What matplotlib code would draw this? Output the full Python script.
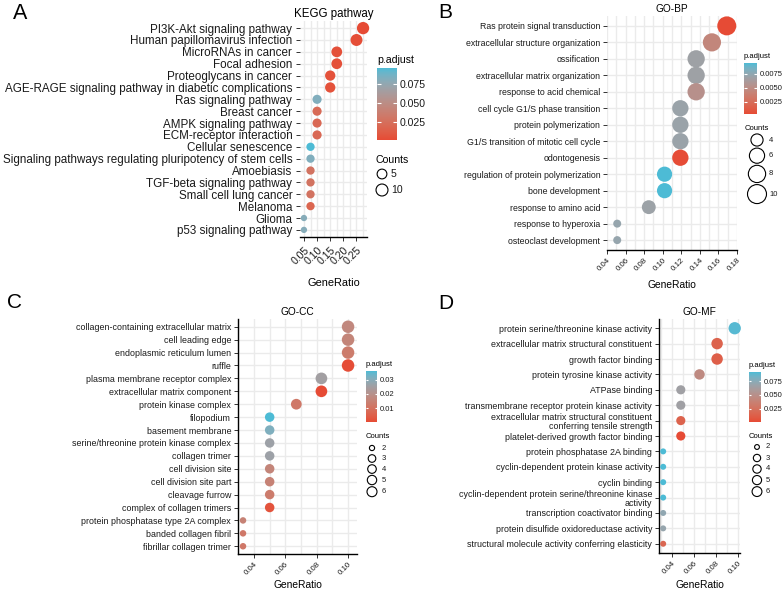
import numpy as np
import matplotlib
matplotlib.use("Agg")
import matplotlib.pyplot as plt
from matplotlib.colors import ListedColormap, Normalize, to_rgb
from matplotlib.cm import ScalarMappable
from matplotlib.ticker import MultipleLocator, FormatStrFormatter

plt.rcParams['font.family'] = ['Liberation Sans', 'DejaVu Sans']

W, H = 784, 591

# ---- KEGG (A) ----
kegg_terms = ["PI3K-Akt signaling pathway", "Human papillomavirus infection", "MicroRNAs in cancer",
              "Focal adhesion", "Proteoglycans in cancer",
              "AGE-RAGE signaling pathway in diabetic complications", "Ras signaling pathway",
              "Breast cancer", "AMPK signaling pathway", "ECM-receptor interaction",
              "Cellular senescence", "Signaling pathways regulating pluripotency of stem cells",
              "Amoebiasis", "TGF-beta signaling pathway", "Small cell lung cancer", "Melanoma",
              "Glioma", "p53 signaling pathway"]
kegg_ratio = [0.275, 0.25, 0.175, 0.175, 0.15, 0.15, 0.10, 0.10, 0.10, 0.10,
              0.075, 0.075, 0.075, 0.075, 0.075, 0.075, 0.05, 0.05]
kegg_count = [11, 10, 7, 7, 6, 6, 4, 4, 4, 4, 3, 3, 3, 3, 3, 3, 2, 2]
kegg_padj = [0.0013, 0.003, 0.004, 0.004, 0.005, 0.005, 0.082, 0.022, 0.020, 0.020,
             0.096, 0.082, 0.028, 0.028, 0.028, 0.018, 0.080, 0.080]

# ---- GO-BP (B) ----
bp_terms = ["Ras protein signal transduction", "extracellular structure organization", "ossification",
            "extracellular matrix organization", "response to acid chemical",
            "cell cycle G1/S phase transition", "protein polymerization",
            "G1/S transition of mitotic cell cycle", "odontogenesis",
            "regulation of protein polymerization", "bone development", "response to amino acid",
            "response to hyperoxia", "osteoclast development"]
bp_ratio = [0.169, 0.153, 0.136, 0.136, 0.136, 0.119, 0.119, 0.119, 0.119, 0.102, 0.102, 0.085, 0.051, 0.051]
bp_count = [10, 9, 8, 8, 8, 7, 7, 7, 7, 6, 6, 5, 3, 3]
bp_padj = [0.0003, 0.0044, 0.0068, 0.0068, 0.0053, 0.0070, 0.0070, 0.0070, 0.0004,
           0.0094, 0.0094, 0.0069, 0.0072, 0.0072]

# ---- GO-CC (C) ----
cc_terms = ["collagen-containing extracellular matrix", "cell leading edge", "endoplasmic reticulum lumen",
            "ruffle", "plasma membrane receptor complex", "extracellular matrix component",
            "protein kinase complex", "filopodium", "basement membrane",
            "serine/threonine protein kinase complex", "collagen trimer", "cell division site",
            "cell division site part", "cleavage furrow", "complex of collagen trimers",
            "protein phosphatase type 2A complex", "banded collagen fibril", "fibrillar collagen trimer"]
cc_ratio = [0.1, 0.1, 0.1, 0.1, 0.083, 0.083, 0.067, 0.05, 0.05, 0.05, 0.05, 0.05, 0.05, 0.05, 0.05,
            0.033, 0.033, 0.033]
cc_count = [6, 6, 6, 6, 5, 5, 4, 3, 3, 3, 3, 3, 3, 3, 3, 2, 2, 2]
cc_padj = [0.017, 0.016, 0.013, 0.0008, 0.025, 0.0003, 0.012, 0.036, 0.031, 0.026, 0.026,
           0.016, 0.015, 0.013, 0.002, 0.015, 0.012, 0.012]

# ---- GO-MF (D) ----
mf_terms = ["protein serine/threonine kinase activity", "extracellular matrix structural constituent",
            "growth factor binding", "protein tyrosine kinase activity", "ATPase binding",
            "transmembrane receptor protein kinase activity",
            "extracellular matrix structural constituent\nconferring tensile strength",
            "platelet-derived growth factor binding", "protein phosphatase 2A binding",
            "cyclin-dependent protein kinase activity", "cyclin binding",
            "cyclin-dependent protein serine/threonine kinase\nactivity",
            "transcription coactivator binding", "protein disulfide oxidoreductase activity",
            "structural molecule activity conferring elasticity"]
mf_ratio = [0.097, 0.081, 0.081, 0.065, 0.048, 0.048, 0.048, 0.048,
            0.032, 0.032, 0.032, 0.032, 0.032, 0.032, 0.032]
mf_count = [6, 5, 5, 4, 3, 3, 3, 3, 2, 2, 2, 2, 2, 2, 2]
mf_padj = [0.090, 0.015, 0.012, 0.045, 0.065, 0.065, 0.015, 0.0005, 0.092, 0.092, 0.092,
           0.092, 0.072, 0.070, 0.018]


# colour gradient interpolated in Lab, like ggplot's scale_colour_gradient
M = np.array([[0.4124, 0.3576, 0.1805], [0.2126, 0.7152, 0.0722], [0.0193, 0.1192, 0.9505]])
WHITE = np.array([0.95047, 1.0, 1.08883])


def to_lab(c):
    rgb = np.array(to_rgb(c))
    lin = np.where(rgb <= 0.04045, rgb / 12.92, ((rgb + 0.055) / 1.055) ** 2.4)
    xyz = M @ lin / WHITE
    f = np.where(xyz > (6 / 29) ** 3, np.cbrt(xyz), xyz / (3 * (6 / 29) ** 2) + 4 / 29)
    return np.array([116 * f[1] - 16, 500 * (f[0] - f[1]), 200 * (f[1] - f[2])])


def from_lab(lab):
    fy = (lab[:, 0] + 16) / 116
    f = np.stack([fy + lab[:, 1] / 500, fy, fy - lab[:, 2] / 200], -1)
    xyz = np.where(f > 6 / 29, f ** 3, 3 * (6 / 29) ** 2 * (f - 4 / 29)) * WHITE
    lin = xyz @ np.linalg.inv(M).T
    rgb = np.where(lin <= 0.0031308, 12.92 * lin, 1.055 * np.clip(lin, 0, None) ** (1 / 2.4) - 0.055)
    return np.clip(rgb, 0, 1)


t = np.linspace(0, 1, 256)[:, None]
lab_lo, lab_hi = to_lab("#E64B35"), to_lab("#4DBBD5")
cmap = ListedColormap(from_lab(lab_lo * (1 - t) + lab_hi * t))


def px_rect(l, t, r, b):
    return [l / W, 1 - b / H, (r - l) / W, (b - t) / H]


def diam(c, cmin, cmax, dmin, dmax):
    c = np.asarray(c, dtype=float)
    return dmin + np.sqrt((c - cmin) / (cmax - cmin)) * (dmax - dmin)


fig = plt.figure(figsize=(W / 100, H / 100), dpi=100)

panels = [
    dict(terms=kegg_terms, ratio=kegg_ratio, count=kegg_count, padj=kegg_padj, title="KEGG pathway",
         rect=(300, 21, 367, 237), xlim=(0.035, 0.29), major=0.05, ylab_fs=8.35, xtick_fs=7.6,
         title_fs=8.3, xlabel_fs=7.9, xlabel_y=283, dsize=(6.3, 12.3), leftspine=False, tick_len=3.2,
         cbar=(377, 68, 397, 140), cticks=[0.025, 0.05, 0.075], cfmt="%.3f", cfs=7.6,
         legend_vals=[5, 10], leg=(376, 160, 382, 174, 391), key_min=16, leg_scale=1.0, lfs=7.6,
         letter="A", letter_pos=(13, 19), letter_fs=15.5),
    dict(terms=bp_terms, ratio=bp_ratio, count=bp_count, padj=bp_padj, title="GO-BP",
         rect=(607, 16, 737, 250), xlim=(0.04, 0.18), major=0.02, ylab_fs=6.3, xtick_fs=5.7,
         title_fs=7.3, xlabel_fs=7.4, xlabel_y=285, dsize=(8.0, 19.0), leftspine=False, tick_len=2.6,
         cbar=(744, 63, 757, 114), cticks=[0.0025, 0.005, 0.0075], cfmt="%.4f", cfs=5.5,
         legend_vals=[4, 6, 8, 10], leg=(745, 128, 757, 140, 769), key_min=14, leg_scale=1.0, lfs=5.5,
         letter="B", letter_pos=(438, 18), letter_fs=15),
    dict(terms=cc_terms, ratio=cc_ratio, count=cc_count, padj=cc_padj, title="GO-CC",
         rect=(238, 319, 357, 554), xlim=(0.0298, 0.1057), major=0.02, ylab_fs=6.4, xtick_fs=5.7,
         title_fs=7.3, xlabel_fs=7.4, xlabel_y=585, dsize=(6.5, 12.5), leftspine=True, tick_len=2.6,
         cbar=(366, 371, 377, 422), cticks=[0.01, 0.02, 0.03], cfmt="%.2f", cfs=5.5,
         legend_vals=[2, 3, 4, 5, 6], leg=(366, 436, 372, 448, 382), key_min=10.5, leg_scale=0.8,
         lfs=5.5, letter="C", letter_pos=(7, 308), letter_fs=15),
    dict(terms=mf_terms, ratio=mf_ratio, count=mf_count, padj=mf_padj, title="GO-MF",
         rect=(659, 319, 740, 553), xlim=(0.0282, 0.1018), major=0.02, ylab_fs=6.4, xtick_fs=5.7,
         title_fs=7.3, xlabel_fs=7.4, xlabel_y=585, dsize=(6.0, 12.3), leftspine=True, tick_len=2.6,
         cbar=(749, 372, 761, 422), cticks=[0.025, 0.05, 0.075], cfmt="%.3f", cfs=5.5,
         legend_vals=[2, 3, 4, 5, 6], leg=(749, 437, 757, 447, 766), key_min=11, leg_scale=0.8,
         lfs=5.5, letter="D", letter_pos=(438, 309), letter_fs=15),
]

for p in panels:
    n = len(p["terms"])
    y = np.arange(n)[::-1]
    cmin, cmax = min(p["count"]), max(p["count"])
    norm = Normalize(min(p["padj"]), max(p["padj"]))
    d_px = diam(p["count"], cmin, cmax, *p["dsize"])

    l, tp, r, b = p["rect"]
    ax = fig.add_axes(px_rect(l, tp, r, b))
    ax.scatter(p["ratio"], y, s=(d_px * 0.72) ** 2, c=p["padj"], cmap=cmap, norm=norm,
               linewidths=0, zorder=3, clip_on=False)
    ax.set_xlim(*p["xlim"])
    ax.set_ylim(-0.6, n - 0.4)
    ax.set_yticks(y)
    ax.set_yticklabels(p["terms"], fontsize=p["ylab_fs"], color="#1a1a1a", linespacing=1.0)
    ax.xaxis.set_major_locator(MultipleLocator(p["major"]))
    ax.xaxis.set_minor_locator(MultipleLocator(p["major"] / 2))
    ax.xaxis.set_major_formatter(FormatStrFormatter("%.2f"))
    for lab in ax.get_xticklabels():
        lab.set_rotation(45)
        lab.set_ha("right")
        lab.set_rotation_mode("anchor")
        lab.set_fontsize(p["xtick_fs"])
        lab.set_color("#1a1a1a")
    ax.tick_params(axis="both", which="major", length=p["tick_len"], width=0.7, color="#333333", pad=2.3)
    ax.tick_params(axis="x", which="minor", length=0)
    ax.grid(True, which="both", color="#EBEBEB", linewidth=1.0)
    ax.set_axisbelow(True)
    for side in ["top", "right"]:
        ax.spines[side].set_visible(False)
    ax.spines["bottom"].set_color("black")
    ax.spines["bottom"].set_linewidth(1.0)
    if p["leftspine"]:
        ax.spines["left"].set_color("black")
        ax.spines["left"].set_linewidth(1.0)
    else:
        ax.spines["left"].set_visible(False)
    ax.set_title(p["title"], fontsize=p["title_fs"], pad=3)
    ax.set_xlabel("GeneRatio", fontsize=p["xlabel_fs"])
    ax.xaxis.set_label_coords(0.5, -(p["xlabel_y"] - b) / (b - tp))
    ax.xaxis.label.set_va("center")

    # colour bar
    cl, ct, cr, cbt = p["cbar"]
    cax = fig.add_axes(px_rect(cl, ct, cr, cbt))
    cb = fig.colorbar(ScalarMappable(norm=norm, cmap=cmap), cax=cax)
    cb.outline.set_visible(False)
    cb.set_ticks(p["cticks"])
    cb.set_ticklabels([p["cfmt"] % v for v in p["cticks"]])
    cax.tick_params(axis="y", direction="in", color="white", width=0.8, length=(cr - cl) * 0.2 * 0.72,
                    left=True, right=True, labelsize=p["cfs"], labelcolor="#1a1a1a", pad=2)
    fig.text(cl / W, 1 - (ct - 3) / H, "p.adjust", fontsize=p["cfs"], ha="left", va="bottom")

    # size legend, keys stacked by their circle size
    tx, ty, cx, cy0, lx = p["leg"]
    leg_d = diam(p["legend_vals"], cmin, cmax, *p["dsize"]) * p["leg_scale"]
    key_h = np.maximum(leg_d + 2.0, p["key_min"])
    centers = cy0 + np.concatenate([[0], np.cumsum((key_h[:-1] + key_h[1:]) / 2)])
    lax = fig.add_axes([0, 0, 1, 1], zorder=-1)
    lax.set_xlim(0, W)
    lax.set_ylim(H, 0)
    lax.axis("off")
    lax.scatter(np.full(len(centers), cx), centers, s=(leg_d * 0.72) ** 2, facecolors="none",
                edgecolors="black", linewidths=0.8)
    for v, cy in zip(p["legend_vals"], centers):
        lax.text(lx, cy, str(v), fontsize=p["lfs"], ha="left", va="center", color="#1a1a1a")
    lax.text(tx, ty, "Counts", fontsize=p["lfs"], ha="left", va="center")

    fig.text(p["letter_pos"][0] / W, 1 - p["letter_pos"][1] / H, p["letter"], fontsize=p["letter_fs"],
             ha="left", va="baseline")

fig.savefig("out.png", dpi=100)
